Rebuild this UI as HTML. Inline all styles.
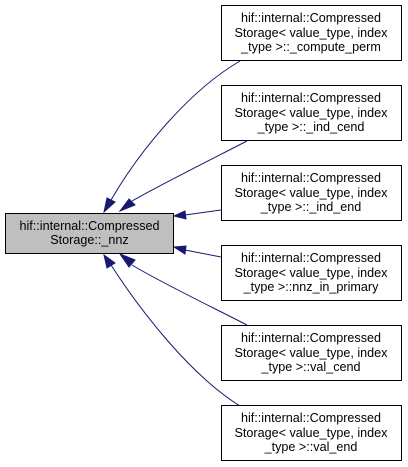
<html><body style="margin:0;background:#fff;width:408px;height:467px;overflow:hidden">
<svg width="408" height="467" xmlns="http://www.w3.org/2000/svg" font-family="Liberation Sans, sans-serif" font-size="12.6">
<rect x="0" y="0" width="408" height="467" fill="#fff"/>
<g fill="none" stroke="#191970" stroke-width="1">
<path d="M240,61 C190,90 140,150 111,200"/>
<path d="M247,141 C210,160 160,185 132,201"/>
<path d="M221,210 L185,215"/>
<path d="M221,257 L185,250"/>
<path d="M247,325 C210,306 160,282 132,265"/>
<path d="M240,406 C190,375 140,310 111,265"/>
</g>
<g fill="#191970" stroke="#191970">
<polygon points="104,212 107,198 115,202"/>
<polygon points="120,211 129,199 135,205"/>
<polygon points="174,216 185,211 186,219"/>
<polygon points="174,247 186,246 185,254"/>
<polygon points="120,254 135,260 129,267"/>
<polygon points="104,255 115,263 107,268"/>
</g>
<rect x="5.5" y="213.5" width="168" height="40" fill="#bfbfbf" stroke="#000"/>
<text x="89.5" y="230" text-anchor="middle">hif::internal::Compressed</text>
<text x="89.5" y="244" text-anchor="middle">Storage::_nnz</text>
<g fill="#fff" stroke="#000">
<rect x="221.5" y="5.5" width="180" height="55"/>
<rect x="221.5" y="85.5" width="180" height="55"/>
<rect x="221.5" y="165.5" width="180" height="55"/>
<rect x="221.5" y="245.5" width="180" height="55"/>
<rect x="221.5" y="325.5" width="180" height="55"/>
<rect x="221.5" y="405.5" width="180" height="55"/>
</g>
<g text-anchor="middle">
<text x="311" y="22">hif::internal::Compressed</text><text x="311" y="37">Storage&lt; value_type, index</text><text x="311" y="51">_type &gt;::_compute_perm</text>
<text x="311" y="102">hif::internal::Compressed</text><text x="311" y="117">Storage&lt; value_type, index</text><text x="311" y="131">_type &gt;::_ind_cend</text>
<text x="311" y="182">hif::internal::Compressed</text><text x="311" y="197">Storage&lt; value_type, index</text><text x="311" y="211">_type &gt;::_ind_end</text>
<text x="311" y="262">hif::internal::Compressed</text><text x="311" y="277">Storage&lt; value_type, index</text><text x="311" y="291">_type &gt;::nnz_in_primary</text>
<text x="311" y="342">hif::internal::Compressed</text><text x="311" y="357">Storage&lt; value_type, index</text><text x="311" y="371">_type &gt;::val_cend</text>
<text x="311" y="422">hif::internal::Compressed</text><text x="311" y="437">Storage&lt; value_type, index</text><text x="311" y="451">_type &gt;::val_end</text>
</g>
</svg>
</body></html>
